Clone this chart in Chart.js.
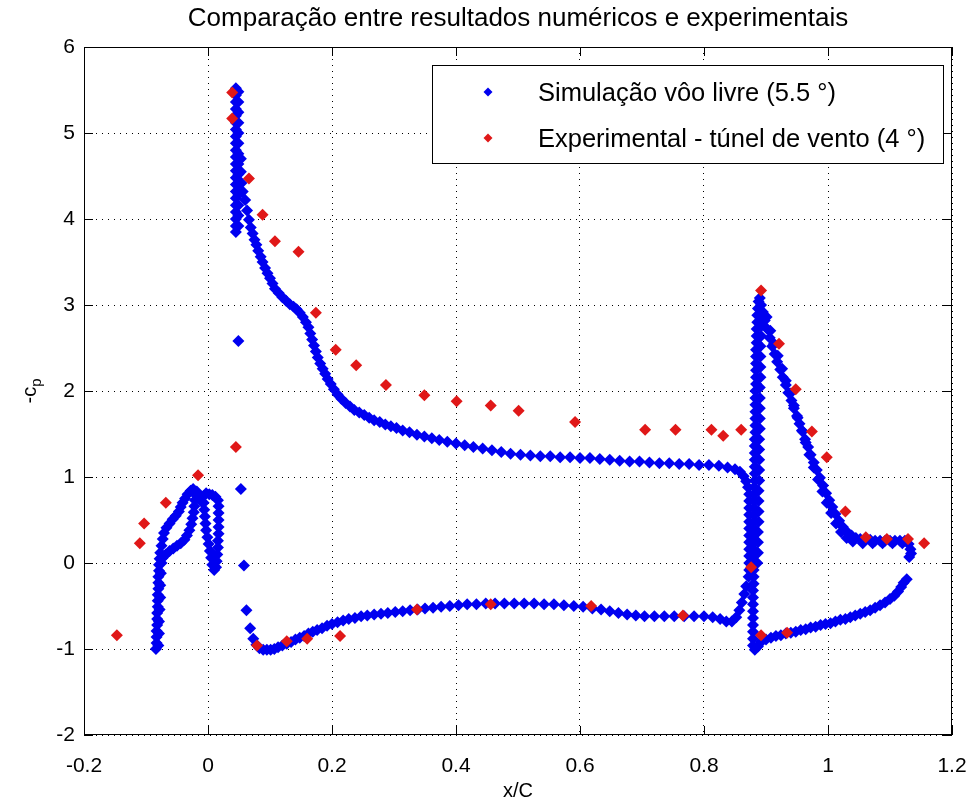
<!DOCTYPE html>
<html>
<head>
<meta charset="utf-8">
<script src="https://cdn.jsdelivr.net/npm/chart.js@4.4.1/dist/chart.umd.min.js"></script>
<style>
  body { margin: 0; background: #fff; }
  canvas { display: block; }
</style>
</head>
<body>
<canvas id="cp" width="972" height="803"></canvas>
<script>
// tick labels
const xTickLabels = ['-0.2', '0', '0.2', '0.4', '0.6', '0.8', '1', '1.2'];
const yTickLabels = ['-2', '-1', '0', '1', '2', '3', '4', '5', '6'];

const seriesNames = ['Simulação vôo livre (5.5 °)', 'Experimental - túnel de vento (4 °)'];

// simulation (x/C, -cp), one array per element
const slatPts = [
  [-0.084,-1.00],[-0.083,-0.93],[-0.083,-0.86],[-0.083,-0.79],[-0.082,-0.72],[-0.082,-0.65],[-0.082,-0.58],
  [-0.081,-0.51],[-0.081,-0.44],[-0.081,-0.37],[-0.080,-0.30],[-0.080,-0.23],[-0.080,-0.16],[-0.079,-0.09],
  [-0.079,-0.02],[-0.078,0.05],
  [-0.080,-0.96],[-0.079,-0.82],[-0.079,-0.68],[-0.078,-0.54],[-0.077,-0.40],[-0.077,-0.26],[-0.076,-0.12],[-0.075,0.00],
  [-0.077,0.12],[-0.075,0.20],[-0.073,0.28],[-0.071,0.35],[-0.067,0.41],[-0.062,0.46],[-0.057,0.51],[-0.052,0.55],
  [-0.047,0.60],[-0.044,0.65],[-0.041,0.70],[-0.037,0.75],[-0.033,0.80],[-0.028,0.84],[-0.024,0.86],
  [-0.073,0.06],[-0.068,0.10],[-0.062,0.14],[-0.056,0.17],[-0.050,0.20],[-0.044,0.23],[-0.038,0.27],[-0.034,0.32],
  [-0.030,0.38],[-0.027,0.45],[-0.025,0.52],[-0.023,0.59],[-0.022,0.66],[-0.021,0.73],[-0.021,0.80],
  [-0.018,0.83],[-0.014,0.77],[-0.010,0.71],[-0.007,0.78],[-0.003,0.81],[0.002,0.80],[0.007,0.79],[0.012,0.77],[0.016,0.73],
  [-0.007,0.70],[-0.006,0.62],[-0.005,0.54],[-0.004,0.46],[-0.003,0.38],[-0.001,0.30],[0.001,0.22],[0.003,0.14],
  [0.005,0.06],[0.007,-0.02],[0.010,-0.08],
  [0.017,0.66],[0.017,0.58],[0.017,0.50],[0.017,0.42],[0.017,0.34],[0.016,0.26],[0.016,0.18],[0.015,0.10],
  [0.014,0.02],[0.013,-0.05]
];

const mainUpperPts = [
  [0.045,5.52],[0.045,5.44],[0.045,5.36],[0.045,5.28],[0.045,5.20],[0.045,5.12],[0.045,5.04],[0.045,4.96],
  [0.045,4.88],[0.045,4.80],[0.045,4.72],[0.045,4.64],[0.045,4.56],[0.045,4.48],[0.045,4.40],[0.045,4.32],
  [0.045,4.24],[0.045,4.16],[0.045,4.08],[0.045,4.00],[0.045,3.92],[0.045,3.85],
  [0.049,5.48],[0.049,5.36],[0.049,5.24],[0.049,5.12],[0.049,5.00],[0.049,4.88],[0.049,4.76],[0.049,4.64],
  [0.049,4.52],[0.049,4.40],[0.049,4.28],[0.049,4.16],[0.049,4.04],[0.049,3.92],
  [0.053,4.70],[0.053,4.55],[0.054,4.42],[0.056,4.32],
  [0.060,4.22],[0.063,4.10],[0.066,3.99],[0.069,3.90],[0.072,3.83],[0.075,3.76],[0.078,3.70],[0.081,3.63],
  [0.085,3.56],[0.088,3.50],[0.092,3.43],[0.096,3.37],[0.100,3.31],[0.104,3.25],[0.108,3.19],[0.114,3.14],
  [0.120,3.09],[0.126,3.05],[0.132,3.01],[0.138,2.98],[0.143,2.95],[0.148,2.91],[0.153,2.86],[0.158,2.80],
  [0.162,2.74],[0.165,2.67],[0.168,2.60],[0.171,2.53],[0.174,2.46],[0.177,2.39],[0.181,2.32],[0.185,2.26],
  [0.189,2.20],[0.193,2.14],[0.198,2.08],[0.203,2.02],[0.209,1.96],[0.215,1.91],[0.222,1.86],[0.229,1.82],
  [0.236,1.78],[0.244,1.75],[0.252,1.72],[0.260,1.69],[0.268,1.66],[0.277,1.64],[0.286,1.61],[0.295,1.59],
  [0.304,1.57],[0.314,1.54],[0.325,1.52],[0.337,1.49],[0.349,1.47],[0.361,1.45],[0.373,1.43],[0.386,1.41],
  [0.400,1.39],[0.414,1.37],[0.428,1.35],[0.443,1.33],[0.458,1.31],[0.473,1.29],[0.488,1.27],[0.504,1.26],
  [0.520,1.25],[0.536,1.24],[0.552,1.24],[0.568,1.23],[0.584,1.23],[0.600,1.22],[0.616,1.22],[0.632,1.21],
  [0.648,1.20],[0.664,1.19],[0.680,1.18],[0.696,1.18],[0.712,1.17],[0.728,1.16],[0.744,1.16],[0.760,1.15],
  [0.776,1.15],[0.792,1.14],[0.808,1.14],[0.824,1.13],[0.838,1.11],[0.850,1.09],[0.858,1.06],[0.864,1.01],
  [0.868,0.95],[0.871,0.88],
  [0.873,0.80],[0.873,0.72],[0.873,0.64],[0.873,0.56],[0.873,0.48],[0.873,0.40],[0.873,0.32],[0.873,0.24],
  [0.873,0.16],[0.873,0.08],[0.873,0.00],[0.873,-0.08],[0.872,-0.16]
];

const mainLowerPts = [
  [0.049,2.58],[0.053,0.86],[0.058,-0.03],[0.062,-0.55],[0.068,-0.76],[0.073,-0.88],[0.078,-0.95],[0.083,-0.99],
  [0.089,-1.01],[0.095,-1.01],[0.101,-1.01],[0.107,-1.00],[0.113,-0.98],[0.120,-0.96],[0.127,-0.94],[0.134,-0.92],
  [0.141,-0.89],[0.148,-0.87],[0.155,-0.85],[0.162,-0.82],[0.169,-0.80],[0.176,-0.78],[0.184,-0.76],[0.192,-0.73],
  [0.200,-0.71],[0.209,-0.69],[0.218,-0.67],[0.227,-0.65],[0.237,-0.64],[0.247,-0.62],[0.257,-0.61],[0.268,-0.60],
  [0.279,-0.59],[0.290,-0.58],[0.302,-0.57],[0.314,-0.56],[0.326,-0.55],[0.338,-0.54],[0.350,-0.53],[0.363,-0.52],
  [0.376,-0.51],[0.390,-0.50],[0.404,-0.49],[0.418,-0.48],[0.433,-0.48],[0.448,-0.47],[0.463,-0.47],[0.478,-0.47],
  [0.494,-0.47],[0.510,-0.47],[0.526,-0.47],[0.542,-0.48],[0.558,-0.48],[0.574,-0.49],[0.590,-0.50],[0.605,-0.51],
  [0.620,-0.53],[0.634,-0.54],[0.648,-0.56],[0.662,-0.58],[0.676,-0.60],[0.690,-0.61],[0.704,-0.62],[0.720,-0.62],
  [0.736,-0.62],[0.752,-0.62],[0.768,-0.62],[0.784,-0.62],[0.800,-0.62],[0.814,-0.63],[0.826,-0.65],[0.836,-0.68],
  [0.845,-0.68],[0.852,-0.63],[0.857,-0.55],[0.861,-0.46],[0.865,-0.36],[0.868,-0.27]
];

const flapPts = [
  [0.879,-0.96],[0.879,-0.88],[0.879,-0.80],[0.879,-0.72],[0.879,-0.64],[0.879,-0.56],[0.879,-0.48],[0.879,-0.40],
  [0.879,-0.32],[0.880,-0.24],[0.880,-0.16],[0.880,-0.08],[0.880,0.00],[0.880,0.08],[0.880,0.16],[0.880,0.24],
  [0.880,0.32],[0.881,0.40],[0.881,0.48],[0.881,0.56],[0.881,0.64],[0.881,0.72],[0.881,0.80],[0.881,0.88],
  [0.882,0.96],[0.882,1.04],[0.882,1.12],[0.882,1.20],[0.882,1.28],[0.882,1.36],[0.882,1.44],[0.883,1.52],
  [0.883,1.60],[0.883,1.68],[0.883,1.76],[0.883,1.84],[0.883,1.92],[0.883,2.00],[0.884,2.08],[0.884,2.16],
  [0.884,2.24],[0.884,2.32],[0.884,2.40],[0.884,2.48],[0.885,2.56],[0.885,2.64],[0.885,2.72],[0.886,2.80],
  [0.886,2.88],[0.887,2.96],[0.888,3.04],
  [0.886,0.00],[0.887,0.12],[0.887,0.24],[0.887,0.36],[0.888,0.48],[0.888,0.60],[0.888,0.72],[0.888,0.84],
  [0.889,0.96],[0.889,1.08],[0.889,1.20],[0.889,1.32],[0.889,1.44],[0.890,1.56],[0.890,1.68],[0.890,1.80],
  [0.890,1.92],[0.890,2.04],[0.891,2.16],[0.891,2.28],[0.891,2.40],[0.891,2.52],[0.892,2.64],[0.893,2.76],
  [0.893,2.88],[0.892,3.00],[0.890,3.08],
  [0.895,2.92],[0.898,2.82],[0.902,2.72],[0.906,2.62],[0.910,2.52],[0.914,2.43],[0.918,2.34],[0.923,2.25],
  [0.927,2.16],[0.932,2.07],[0.936,1.98],[0.941,1.89],[0.945,1.80],[0.950,1.71],[0.954,1.62],[0.959,1.53],
  [0.963,1.44],[0.968,1.35],[0.972,1.26],[0.977,1.17],[0.982,1.08],[0.987,0.99],[0.992,0.90],[0.997,0.81],
  [1.002,0.73],[1.007,0.65],[1.012,0.57],[1.018,0.49],[1.024,0.42],[1.031,0.36],[1.038,0.32],[1.045,0.29],
  [0.901,2.86],[0.907,2.70],[0.913,2.55],[0.919,2.41],[0.926,2.26],[0.932,2.12],[0.939,1.97],[0.945,1.83],
  [0.951,1.69],[0.958,1.54],[0.964,1.40],[0.970,1.26],[0.977,1.11],[0.984,0.97],[0.991,0.83],[0.998,0.70],
  [1.005,0.58],[1.013,0.46],[1.021,0.36],[1.030,0.29],[1.040,0.25],
  [1.052,0.28],[1.060,0.27],[1.068,0.27],[1.076,0.26],[1.084,0.26],[1.092,0.26],[1.100,0.26],[1.108,0.26],
  [1.116,0.26],[1.124,0.26],[1.056,0.23],[1.072,0.23],[1.088,0.23],[1.104,0.23],[1.120,0.23],
  [1.130,0.22],[1.133,0.16],[1.134,0.11],[1.131,0.07],
  [0.882,-1.01],[0.887,-0.97],[0.892,-0.92],[0.900,-0.89],[0.908,-0.87],[0.916,-0.85],[0.924,-0.84],[0.932,-0.82],
  [0.940,-0.81],[0.948,-0.80],[0.956,-0.78],[0.964,-0.77],[0.972,-0.75],[0.980,-0.74],[0.988,-0.72],[0.996,-0.71],
  [1.004,-0.70],[1.012,-0.68],[1.020,-0.66],[1.028,-0.65],[1.036,-0.63],[1.044,-0.61],[1.052,-0.59],[1.060,-0.57],
  [1.068,-0.55],[1.076,-0.52],[1.084,-0.49],[1.092,-0.46],[1.100,-0.42],[1.107,-0.38],[1.113,-0.33],[1.118,-0.28],
  [1.122,-0.23],[1.127,-0.19]
];

// wind tunnel measurements (x/C, -cp)
const expPts = [
  [-0.147,-0.84],[-0.110,0.23],[-0.103,0.46],[-0.068,0.70],[-0.016,1.02],[0.039,5.47],[0.039,5.17],[0.045,1.35],
  [0.066,4.47],[0.079,-0.96],[0.088,4.05],[0.108,3.74],[0.127,-0.91],[0.146,3.62],[0.160,-0.88],[0.174,2.91],
  [0.206,2.48],[0.213,-0.85],[0.239,2.30],[0.287,2.07],[0.337,-0.54],[0.349,1.95],[0.401,1.88],[0.456,1.83],
  [0.456,-0.48],[0.501,1.77],[0.592,1.64],[0.618,-0.50],[0.705,1.55],[0.754,1.55],[0.766,-0.61],[0.812,1.55],
  [0.831,1.48],[0.860,1.55],[0.876,-0.05],[0.892,3.17],[0.892,-0.84],[0.921,2.55],[0.934,-0.81],[0.948,2.02],
  [0.974,1.53],[0.998,1.23],[1.028,0.60],[1.061,0.30],[1.095,0.28],[1.129,0.28],[1.155,0.23]
];

const toXY = pts => pts.map(p => ({ x: p[0], y: p[1] }));
const simPts = [].concat(slatPts, mainUpperPts, mainLowerPts, flapPts);

const FONT = "'Liberation Sans', Arial, sans-serif";
const BLUE = '#0000f0';
const RED = '#e01818';

function diamond(ctx, x, y, r, color) {
  ctx.fillStyle = color;
  ctx.beginPath();
  ctx.moveTo(x, y - r);
  ctx.lineTo(x + r, y);
  ctx.lineTo(x, y + r);
  ctx.lineTo(x - r, y);
  ctx.closePath();
  ctx.fill();
}

// matlab-like box, inward ticks, titles and legend
const matlabFrame = {
  id: 'matlabFrame',
  afterDraw(chart) {
    const { ctx, chartArea: a, scales } = chart;
    const xs = scales.x, ys = scales.y;
    ctx.save();
    ctx.strokeStyle = '#000';
    ctx.lineWidth = 1;
    ctx.strokeRect(a.left + 0.5, a.top + 0.5, a.right - a.left - 1, a.bottom - a.top - 1);

    const tl = 9;
    ctx.beginPath();
    xs.ticks.forEach(t => {
      const px = Math.round(xs.getPixelForValue(t.value)) + 0.5;
      ctx.moveTo(px, a.bottom); ctx.lineTo(px, a.bottom - tl);
      ctx.moveTo(px, a.top); ctx.lineTo(px, a.top + tl);
    });
    ys.ticks.forEach(t => {
      const py = Math.round(ys.getPixelForValue(t.value)) + 0.5;
      ctx.moveTo(a.left, py); ctx.lineTo(a.left + tl, py);
      ctx.moveTo(a.right, py); ctx.lineTo(a.right - tl, py);
    });
    ctx.stroke();

    ctx.fillStyle = '#000';
    ctx.textAlign = 'center';
    ctx.textBaseline = 'middle';
    ctx.font = '26px ' + FONT;
    ctx.fillText('Comparação entre resultados numéricos e experimentais', (a.left + a.right) / 2, 19);

    ctx.font = '20px ' + FONT;
    ctx.fillText('x/C', (a.left + a.right) / 2, 791);

    // y label: -c with subscript p
    ctx.save();
    ctx.translate(30, (a.top + a.bottom) / 2);
    ctx.rotate(-Math.PI / 2);
    ctx.textAlign = 'left';
    ctx.font = '20px ' + FONT;
    const w1 = ctx.measureText('-c').width;
    ctx.font = '15px ' + FONT;
    const w2 = ctx.measureText('p').width;
    const x0 = -(w1 + w2) / 2;
    ctx.font = '20px ' + FONT;
    ctx.fillText('-c', x0, 0);
    ctx.font = '15px ' + FONT;
    ctx.fillText('p', x0 + w1, 7);
    ctx.restore();

    // legend box
    const bx = 432, by = 65, bw = 511, bh = 98;
    ctx.fillStyle = '#fff';
    ctx.fillRect(bx, by, bw, bh);
    ctx.strokeRect(bx + 0.5, by + 0.5, bw, bh);
    ctx.font = '25.5px ' + FONT;
    ctx.textAlign = 'left';
    chart.data.datasets.forEach((ds, i) => {
      const ry = by + 29 + i * 46;
      diamond(ctx, 488, ry - 2, 4.5, ds.backgroundColor);
      ctx.fillStyle = '#000';
      ctx.fillText(ds.label, 538, ry);
    });
    ctx.restore();
  }
};

const gridOpts = { color: '#000', lineWidth: 1, drawTicks: false };
const borderOpts = { display: false, dash: [1, 5] };

new Chart(document.getElementById('cp'), {
  type: 'scatter',
  data: {
    datasets: [
      {
        label: seriesNames[0],
        data: toXY(simPts),
        backgroundColor: BLUE,
        borderColor: BLUE,
        pointStyle: 'rectRot',
        pointRadius: 6,
        pointBorderWidth: 0,
        order: 1
      },
      {
        label: seriesNames[1],
        data: toXY(expPts),
        backgroundColor: RED,
        borderColor: RED,
        pointStyle: 'rectRot',
        pointRadius: 6,
        pointBorderWidth: 0,
        order: 0
      }
    ]
  },
  options: {
    responsive: false,
    animation: false,
    layout: { padding: { top: 47, right: 20, left: 0, bottom: 0 } },
    scales: {
      x: {
        type: 'linear',
        min: -0.2,
        max: 1.2,
        ticks: {
          stepSize: 0.2,
          padding: 19,
          color: '#000',
          font: { family: FONT, size: 21 },
          callback: (v, i) => xTickLabels[i]
        },
        grid: gridOpts,
        border: borderOpts,
        afterFit: s => { s.height = 68; s.paddingLeft = 0; s.paddingRight = 0; }
      },
      y: {
        type: 'linear',
        min: -2,
        max: 6,
        ticks: {
          stepSize: 1,
          padding: 9,
          color: '#000',
          font: { family: FONT, size: 21 },
          callback: (v, i) => yTickLabels[i]
        },
        grid: gridOpts,
        border: borderOpts,
        afterFit: s => { s.width = 84; s.paddingTop = 0; s.paddingBottom = 0; }
      }
    },
    plugins: {
      legend: { display: false },
      title: { display: false },
      tooltip: { enabled: false }
    }
  },
  plugins: [matlabFrame]
});
</script>
</body>
</html>
